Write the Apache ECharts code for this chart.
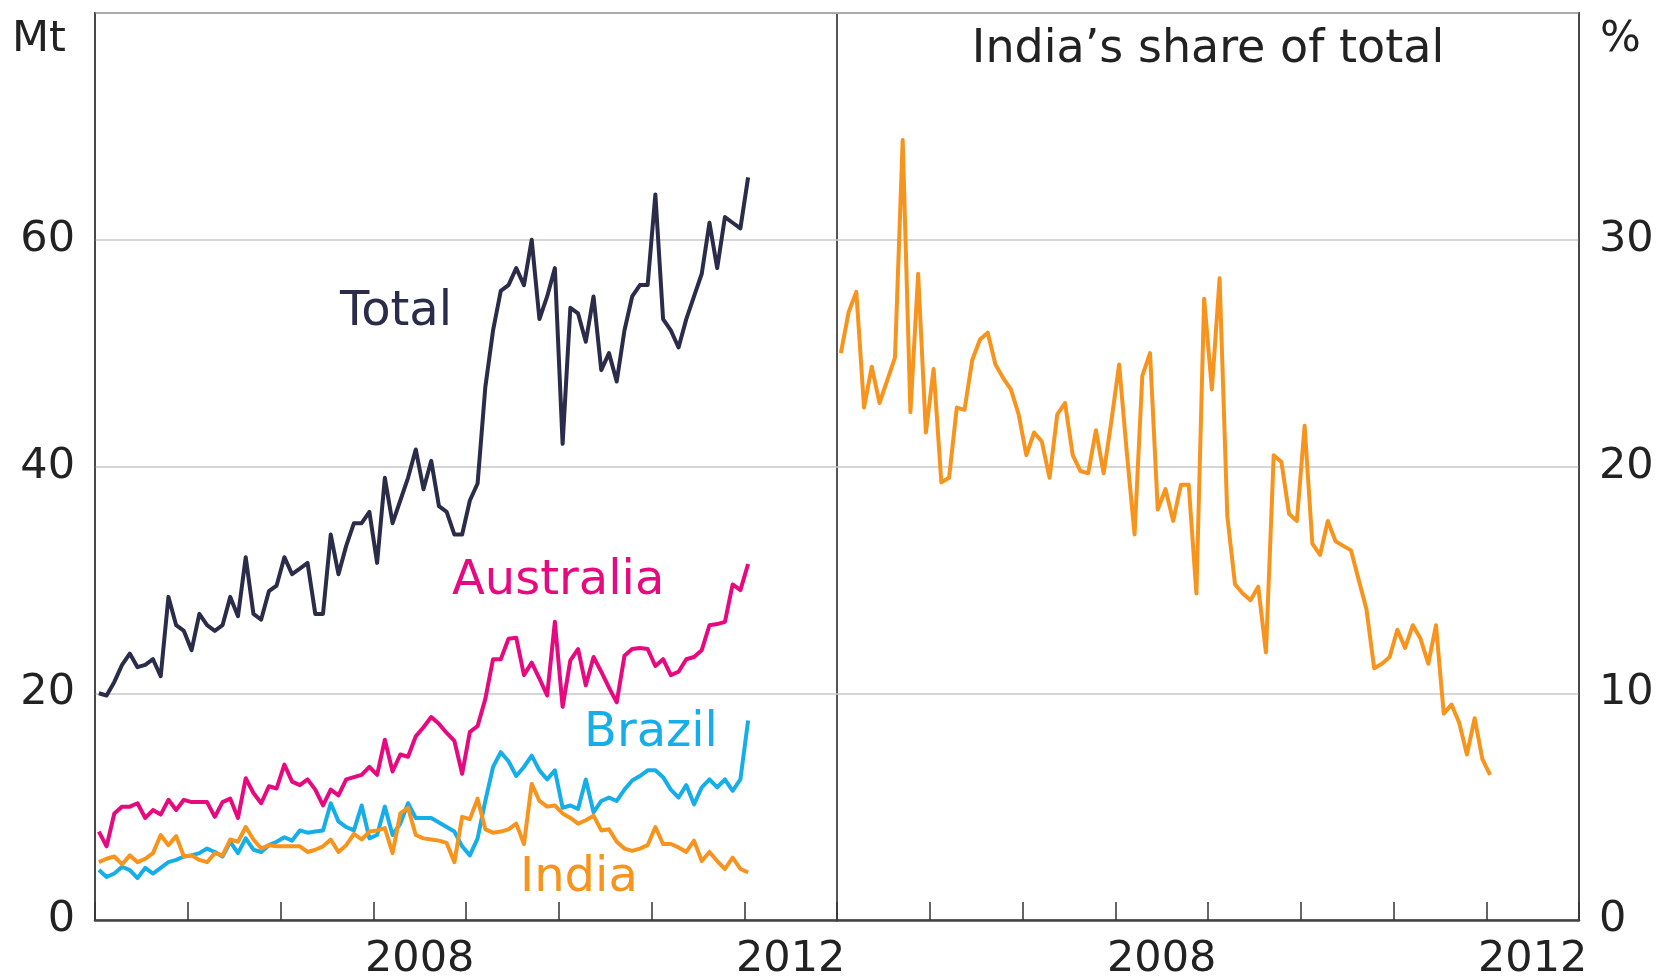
<!DOCTYPE html>
<html>
<head>
<meta charset="utf-8">
<title>Coal exports</title>
<script src="https://cdn.jsdelivr.net/npm/echarts@6/dist/echarts.min.js"></script>
<style>
  html, body { margin: 0; padding: 0; background: #fff; }
  #chart { width: 1664px; height: 977px; }
</style>
</head>
<body>
<div id="chart"></div>
<script>
// monthly observations, Jan 2005 - Jan 2012
var startYear = 2005;
var years = ['2005', '2006', '2007', '2008', '2009', '2010', '2011', '2012'];
var shownYears = ['2008', '2012'];
var mtTicks = [0, 20, 40, 60];
var pctTicks = [0, 10, 20, 30];

// Mt
var total = [20.0, 19.8, 21.0, 22.5, 23.5, 22.3, 22.5, 23.0, 21.5, 28.5,
  26.0, 25.5, 23.8, 27.0, 26.0, 25.5, 26.0, 28.5, 26.8, 32.0,
  27.0, 26.5, 29.0, 29.5, 32.0, 30.5, 31.0, 31.5, 27.0, 27.0,
  34.0, 30.5, 33.0, 35.0, 35.0, 36.0, 31.5, 39.0, 35.0, 37.0,
  39.0, 41.5, 38.0, 40.5, 36.5, 36.0, 34.0, 34.0, 37.0, 38.5,
  47.0, 52.0, 55.5, 56.0, 57.5, 56.0, 60.0, 53.0, 55.0, 57.5,
  42.0, 54.0, 53.5, 51.0, 55.0, 48.5, 50.0, 47.5, 52.0, 55.0,
  56.0, 56.0, 64.0, 53.0, 52.0, 50.5, 53.0, 55.0, 57.0, 61.5,
  57.5, 62.0, 61.5, 61.0, 65.5];
var australia = [7.8, 6.5, 9.4, 10.0, 10.0, 10.3, 9.0, 9.7, 9.3, 10.6,
  9.7, 10.6, 10.4, 10.4, 10.4, 9.1, 10.4, 10.7, 9.0, 12.5,
  11.2, 10.3, 11.8, 11.6, 13.7, 12.2, 11.9, 12.4, 11.5, 10.1,
  11.5, 11.0, 12.4, 12.6, 12.8, 13.5, 12.8, 15.9, 13.1, 14.6,
  14.4, 16.2, 17.0, 17.9, 17.3, 16.5, 15.8, 12.9, 16.6, 17.1,
  19.5, 23.0, 23.0, 24.8, 24.9, 21.6, 22.7, 21.3, 19.8, 26.3,
  18.8, 22.9, 23.9, 20.7, 23.2, 21.9, 20.5, 19.2, 23.3, 23.9,
  24.0, 23.9, 22.4, 23.0, 21.6, 21.9, 23.0, 23.2, 23.8, 26.0,
  26.1, 26.3, 29.6, 29.1, 31.4];
var brazil = [4.4, 3.8, 4.1, 4.7, 4.4, 3.7, 4.6, 4.1, 4.6, 5.1,
  5.3, 5.6, 5.7, 5.9, 6.3, 6.0, 5.6, 6.9, 5.9, 7.2,
  6.2, 6.0, 6.6, 6.9, 7.3, 7.0, 7.9, 7.7, 7.8, 7.9,
  10.3, 8.7, 8.2, 7.9, 10.1, 7.2, 7.5, 10.0, 7.5, 8.5,
  10.3, 9.0, 9.0, 9.0, 8.6, 8.2, 7.8, 6.5, 5.7, 7.2,
  10.5, 13.5, 14.8, 14.0, 12.7, 13.5, 14.5, 13.2, 12.4, 13.2,
  9.9, 10.1, 9.8, 12.4, 9.5, 10.5, 10.8, 10.5, 11.5, 12.3,
  12.7, 13.2, 13.2, 12.6, 11.5, 10.8, 11.9, 10.2, 11.7, 12.4,
  11.7, 12.4, 11.4, 12.4, 17.6];
var india = [5.1, 5.4, 5.6, 4.9, 5.7, 5.1, 5.4, 5.9, 7.5, 6.6,
  7.4, 5.6, 5.7, 5.3, 5.1, 5.9, 5.7, 7.1, 6.9, 8.2,
  7.1, 6.3, 6.6, 6.5, 6.5, 6.5, 6.5, 6.0, 6.2, 6.5,
  7.1, 6.0, 6.6, 7.6, 7.1, 7.8, 7.9, 8.1, 5.9, 9.4,
  9.9, 7.5, 7.2, 7.1, 7.0, 6.8, 5.1, 9.1, 8.9, 10.7,
  8.0, 7.7, 7.8, 8.0, 8.5, 6.7, 12.0, 10.5, 10.0, 10.1,
  9.4, 9.0, 8.5, 8.8, 9.2, 7.9, 8.0, 6.9, 6.3, 6.1,
  6.3, 6.6, 8.2, 6.7, 6.7, 6.4, 6.0, 7.0, 5.2, 6.0,
  5.2, 4.5, 5.5, 4.5, 4.2];
// per cent
var indiaShare = [25.0, 26.8, 27.7, 22.6, 24.4, 22.8, 23.8, 24.8, 34.4, 22.4,
  28.5, 21.5, 24.3, 19.3, 19.5, 22.6, 22.5, 24.7, 25.6, 25.9,
  24.5, 23.9, 23.4, 22.3, 20.5, 21.5, 21.1, 19.5, 22.3, 22.8,
  20.5, 19.8, 19.7, 21.6, 19.7, 22.0, 24.5, 20.6, 17.0, 24.0,
  25.0, 18.1, 19.0, 17.6, 19.2, 19.2, 14.4, 27.4, 23.4, 28.3,
  17.8, 14.8, 14.4, 14.1, 14.7, 11.8, 20.5, 20.2, 17.9, 17.6,
  21.8, 16.6, 16.1, 17.6, 16.7, 16.5, 16.3, 15.0, 13.7, 11.1,
  11.3, 11.6, 12.8, 12.0, 13.0, 12.4, 11.3, 13.0, 9.1, 9.5,
  8.7, 7.3, 8.9, 7.1, 6.4];

var FONT = 'DejaVu Sans';
var cTotal = '#2a2c4a', cAus = '#e6097f', cBra = '#16aee9', cInd = '#f7941d';

// mid-month position of each observation
function pairs(arr) {
  var out = [];
  for (var i = 0; i < arr.length; i++) {
    out.push([startYear + (i + 0.5) / 12, arr[i]]);
  }
  return out;
}

function timeAxis(g) {
  return {
    type: 'value', gridIndex: g, position: 'bottom', min: 2005, max: 2013, interval: 1, offset: 0,
    axisLine: { show: true, lineStyle: { color: '#444', width: 2.5 } },
    axisTick: { show: true, inside: true, length: 18, lineStyle: { color: '#333', width: 1.5 } },
    axisLabel: { show: false },
    splitLine: { show: false }
  };
}
function yearAxis(g) {
  return {
    type: 'category', gridIndex: g, position: 'bottom', data: years, boundaryGap: true, offset: 0,
    axisLine: { show: false }, axisTick: { show: false },
    axisLabel: {
      interval: 0, margin: 18, fontFamily: FONT, fontSize: 43, color: '#222',
      formatter: function (v) { return shownYears.indexOf(v) >= 0 ? v : ''; }
    }
  };
}
function valAxis(g, pos, max, step, ticks) {
  return {
    type: 'value', gridIndex: g, position: pos, min: 0, max: max, interval: step,
    axisLine: { show: true, lineStyle: { color: '#444', width: 1.5 } },
    axisTick: { show: false },
    axisLabel: {
      margin: 20, fontFamily: FONT, fontSize: 43, color: '#222',
      formatter: function (v) { return ticks.indexOf(v) >= 0 ? String(v) : ''; }
    },
    splitLine: { show: true, lineStyle: { color: '#c8c8c8', width: 1.5 } }
  };
}
function line(name, data, color, xi, yi) {
  return {
    name: name, type: 'line', data: pairs(data), xAxisIndex: xi, yAxisIndex: yi,
    showSymbol: false, symbol: 'none', silent: true,
    lineStyle: { color: color, width: 4, join: 'round' }
  };
}
function txt(text, x, y, color, size, align) {
  return {
    type: 'text', silent: true,
    style: {
      text: text, x: x, y: y, fill: color, font: size + 'px "' + FONT + '"',
      textAlign: align || 'left', textVerticalAlign: 'middle'
    }
  };
}

var chart = echarts.init(document.getElementById('chart'));
var option = {
  animation: false,
  backgroundColor: '#fff',
  grid: [
    { left: 95, top: 13, width: 742, height: 907, outerBoundsMode: 'none', show: true, borderColor: '#555', borderWidth: 2 },
    { left: 837, top: 13, width: 742, height: 907, outerBoundsMode: 'none', show: true, borderColor: '#555', borderWidth: 2 }
  ],
  xAxis: [timeAxis(0), yearAxis(0), timeAxis(1), yearAxis(1)],
  yAxis: [valAxis(0, 'left', 80, 20, mtTicks), valAxis(1, 'right', 40, 10, pctTicks)],
  series: [
    line('Australia', australia, cAus, 0, 0),
    line('Brazil', brazil, cBra, 0, 0),
    line('India', india, cInd, 0, 0),
    line('Total', total, cTotal, 0, 0),
    line('India share', indiaShare, cInd, 2, 1)
  ],
  graphic: [
    txt('Mt', 12, 40, '#222', 43),
    txt('%', 1600, 40, '#222', 43),
    txt('India\u2019s share of total', 1208, 50, '#222', 46, 'center'),
    txt('Total', 340, 313, cTotal, 48),
    txt('Australia', 452, 582, cAus, 48),
    txt('Brazil', 584, 734, cBra, 48),
    txt('India', 520, 879, cInd, 48)
  ]
};
chart.setOption(option);
</script>
</body>
</html>
